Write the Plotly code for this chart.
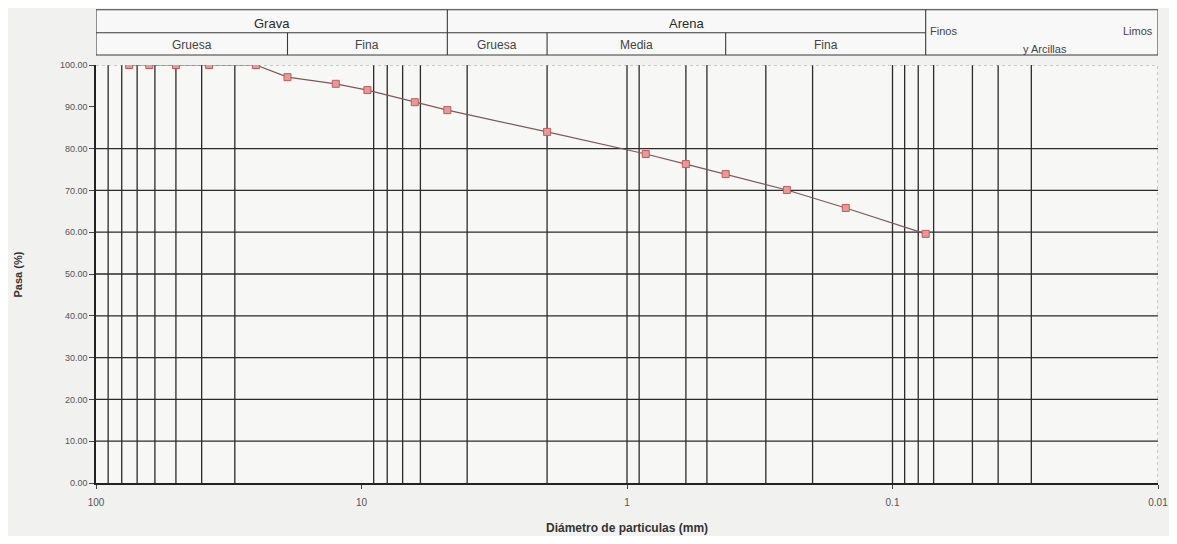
import numpy as np
import plotly.graph_objects as go

# ---- data ----
diametro_mm = [75, 63, 50, 37.5, 25, 19, 12.5, 9.5, 6.3, 4.75, 2.0, 0.85, 0.6, 0.425, 0.25, 0.15, 0.075]
pasa_pct = [100, 100, 100, 100, 100, 97.1, 95.5, 94.0, 91.1, 89.2, 84.0, 78.7, 76.3, 73.9, 70.1, 65.8, 59.6]

x_tick_vals = [100, 10, 1, 0.1, 0.01]
x_tick_text = ["100", "10", "1", "0.1", "0.01"]
y_tick_vals = [0, 10, 20, 30, 40, 50, 60, 70, 80, 90, 100]

# vertical grid lines visible on the scanned chart (mm)
grid_x_mm = [90, 80, 70, 60, 50, 40, 30, 9, 8, 7, 6, 4, 2, 1, 0.9, 0.6, 0.5, 0.3, 0.2,
             0.1, 0.09, 0.08, 0.07, 0.05, 0.04, 0.03]
grid_y_pct = [10, 20, 30, 40, 50, 60, 70, 80]

# header classification table (column borders in mm)
hdr_top = ["Grava", "Arena"]
hdr_top_bounds = [(100, 4.75), (4.75, 0.075)]
hdr_sub = ["Gruesa", "Fina", "Gruesa", "Media", "Fina"]
hdr_sub_bounds = [(100, 19), (19, 4.75), (4.75, 2), (2, 0.425), (0.425, 0.075)]

FONT = "Arial, Liberation Sans, sans-serif"
GRID = "#2b2b2b"

fig = go.Figure()
fig.add_trace(go.Scatter(
    x=diametro_mm, y=pasa_pct, mode="lines+markers",
    line=dict(color="#7a5a5a", width=1.2),
    marker=dict(symbol="square", size=7, color="#e59a9a",
                line=dict(color="#c65a5a", width=1)),
    showlegend=False, hoverinfo="x+y",
))

shapes = []
for v in grid_x_mm:
    shapes.append(dict(type="line", xref="x", yref="y", x0=v, x1=v, y0=0, y1=100,
                       line=dict(color=GRID, width=1.3), layer="below"))
for v in grid_y_pct:
    shapes.append(dict(type="line", xref="x", yref="y", x0=100, x1=0.01, y0=v, y1=v,
                       line=dict(color=GRID, width=1.3), layer="below"))
# faint dotted top and right borders
shapes.append(dict(type="line", xref="x", yref="y", x0=100, x1=0.01, y0=100, y1=100,
                   line=dict(color="#9a9a9a", width=1, dash="dot"), layer="below"))
shapes.append(dict(type="line", xref="x", yref="y", x0=0.01, x1=0.01, y0=0, y1=100,
                   line=dict(color="#9a9a9a", width=1, dash="dot"), layer="below"))

# header table in paper-y coordinates
y_top, y_mid, y_bot = 1.132, 1.077, 1.024
TL = dict(color="#3a3a3a", width=1.1)
shapes.append(dict(type="rect", xref="x", yref="paper", x0=100, x1=0.01, y0=y_bot, y1=y_top,
                   line=TL, fillcolor="#f8f8f8"))
shapes.append(dict(type="line", xref="x", yref="paper", x0=100, x1=0.075, y0=y_mid, y1=y_mid, line=TL))
for v in [4.75, 0.075]:
    shapes.append(dict(type="line", xref="x", yref="paper", x0=v, x1=v, y0=y_bot, y1=y_top, line=TL))
for v in [19, 2, 0.425]:
    shapes.append(dict(type="line", xref="x", yref="paper", x0=v, x1=v, y0=y_bot, y1=y_mid, line=TL))

ann = []
for lab, (a, b) in zip(hdr_top, hdr_top_bounds):
    ann.append(dict(text=lab, xref="x", yref="paper", x=(np.log10(a) + np.log10(b)) / 2,
                    y=(y_top + y_mid) / 2 - 0.006, xanchor="center", yanchor="middle", showarrow=False,
                    font=dict(family=FONT, size=13, color="#2a2a2a")))
for lab, (a, b) in zip(hdr_sub, hdr_sub_bounds):
    ann.append(dict(text=lab, xref="x", yref="paper", x=(np.log10(a) + np.log10(b)) / 2,
                    y=(y_mid + y_bot) / 2 - 0.002, xanchor="center", yanchor="middle", showarrow=False,
                    font=dict(family=FONT, size=12, color="#444444")))
ann.append(dict(text="Finos", xref="x", yref="paper", x=np.log10(0.075), xanchor="left", xshift=2,
                y=1.081, yanchor="middle", showarrow=False, font=dict(family=FONT, size=11, color="#444444")))
ann.append(dict(text="Limos", xref="x", yref="paper", x=np.log10(0.01), xanchor="right", xshift=-3,
                y=1.081, yanchor="middle", showarrow=False, font=dict(family=FONT, size=11, color="#444444")))
ann.append(dict(text="y Arcillas", xref="x", yref="paper", x=np.log10(0.0267), xanchor="center",
                y=1.038, yanchor="middle", showarrow=False, font=dict(family=FONT, size=11, color="#444444")))
ann.append(dict(text="<b>Pasa (%)</b>", xref="paper", yref="paper", x=-0.073, y=0.5,
                xanchor="center", yanchor="middle",
                textangle=-90, showarrow=False, font=dict(family=FONT, size=11, color="#333333")))
ann.append(dict(text="<b>Diámetro de particulas (mm)</b>", xref="paper", yref="paper", x=0.5, y=-0.108,
                xanchor="center", yanchor="middle",
                showarrow=False, font=dict(family=FONT, size=12, color="#333333")))

# page body adds an 8px margin: figure is sized so the plot area lands where the reference has it
fig.update_layout(
    width=1161, height=528,
    margin=dict(l=88, r=11, t=57, b=53, autoexpand=False),
    paper_bgcolor="#f1f1ef", plot_bgcolor="#f7f7f6",
    shapes=shapes, annotations=ann,
    font=dict(family=FONT, size=9, color="#444444"),
)
fig.update_xaxes(type="log", range=[2, -2], tickvals=x_tick_vals, ticktext=x_tick_text,
                 showgrid=False, zeroline=False, showline=True, linecolor="#222222", linewidth=1.5,
                 automargin=False, ticklabelstandoff=5,
                 ticks="outside", ticklen=4, tickcolor="#444444", tickfont=dict(size=10, color="#555555"))
fig.update_yaxes(range=[0, 100], tickvals=y_tick_vals, tickformat=".2f",
                 showgrid=False, zeroline=False, showline=True, linecolor="#222222", linewidth=1.5,
                 automargin=False,
                 ticks="outside", ticklen=5, tickcolor="#444444", tickfont=dict(size=9, color="#555555"))

fig.write_html("out.html")
